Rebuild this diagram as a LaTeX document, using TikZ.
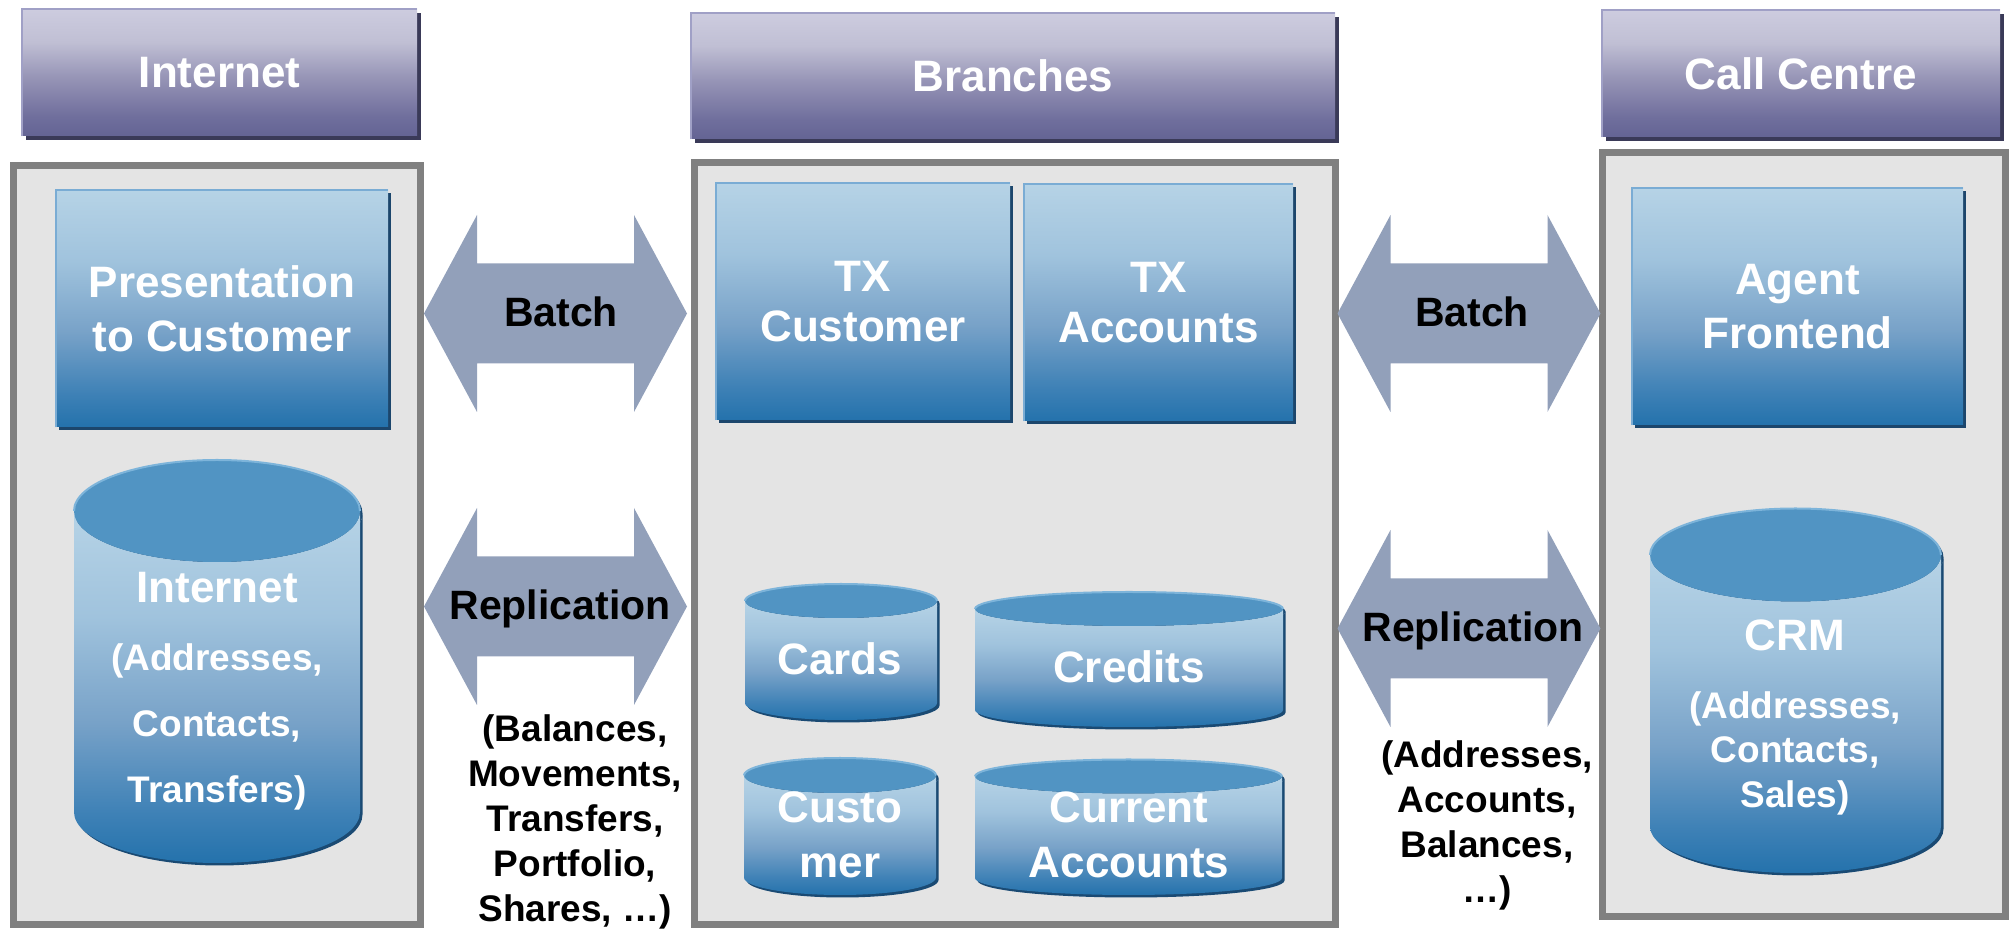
\documentclass[tikz,border=0pt]{standalone}
\usepackage{fontspec}
\setmainfont{Liberation Sans}
\usetikzlibrary{shadows}

% palette
\definecolor{hdrT}{RGB}{205,204,223}
\definecolor{hdrA}{RGB}{192,191,212}
\definecolor{hdrB}{RGB}{150,148,182}
\definecolor{hdrC}{RGB}{112,111,157}
\definecolor{hdrD}{RGB}{100,100,148}
\definecolor{hdrRim}{RGB}{160,160,198}
\definecolor{hdrShadow}{RGB}{58,58,88}
\definecolor{bxT}{RGB}{182,211,230}
\definecolor{bxA}{RGB}{160,195,221}
\definecolor{bxB}{RGB}{120,162,200}
\definecolor{bxC}{RGB}{62,129,182}
\definecolor{bxD}{RGB}{36,114,172}
\definecolor{bxRim}{RGB}{122,172,212}
\definecolor{bxShadow}{RGB}{28,70,108}
\definecolor{cylTop}{RGB}{81,148,195}
\definecolor{cylRim}{RGB}{125,180,218}
\definecolor{cylShadow}{RGB}{26,74,115}
\definecolor{arrowFill}{RGB}{146,160,186}
\definecolor{panelFill}{RGB}{228,228,228}
\definecolor{panelLine}{RGB}{128,128,128}

\pgfdeclareverticalshading{hdrshade}{100bp}{color(0bp)=(hdrD); color(25bp)=(hdrD); color(33bp)=(hdrC); color(48bp)=(hdrB); color(62bp)=(hdrA); color(75bp)=(hdrT); color(100bp)=(hdrT)}
\pgfdeclareverticalshading{boxshade}{100bp}{color(0bp)=(bxD); color(25bp)=(bxD); color(32bp)=(bxC); color(45bp)=(bxB); color(60bp)=(bxA); color(75bp)=(bxT); color(100bp)=(bxT)}

\begin{document}
\begin{tikzpicture}[
  x=0.5pt, y=0.5pt,
  panel/.style={draw=panelLine, fill=panelFill, line width=3.5pt, inner sep=0pt},
  header/.style={shade, shading=hdrshade, inner sep=0pt, text=white,
    font=\fontsize{22}{26}\selectfont\bfseries,
    drop shadow={shadow xshift=2pt, shadow yshift=-2pt, fill=hdrShadow, opacity=1}},
  bluebox/.style={shade, shading=boxshade, inner sep=0pt, text=white, align=center,
    font=\fontsize{22}{27}\selectfont\bfseries,
    drop shadow={shadow xshift=1.5pt, shadow yshift=-1.5pt, fill=bxShadow, opacity=1}},
  celltitle/.style={text=white, inner sep=0pt, anchor=base, font=\fontsize{22}{26}\selectfont\bfseries},
  celltext/.style={text=white, inner sep=0pt, align=center},
  arrowlbl/.style={inner sep=0pt, anchor=base, font=\fontsize{20.5}{24}\selectfont\bfseries},
  note/.style={inner sep=0pt, align=center, font=\fontsize{18.5}{22.5}\selectfont\bfseries},
  pics/dblarrow/.style={code={
    \fill[arrowFill] (-131.5,0) -- (-78.5,98.5) -- (-78.5,50) -- (78.5,50) -- (78.5,98.5)
      -- (131.5,0) -- (78.5,-98.5) -- (78.5,-50) -- (-78.5,-50) -- (-78.5,-98.5) -- cycle;}},
  % #1 half width, #2 half height of the ellipse, #3 body height
  pics/dbcyl/.style n args={3}{code={
    \begin{scope}[shift={(2.5,-2.5)}]
      \fill[cylShadow] (-#1,0) -- (-#1,-#3)
        arc[start angle=180, end angle=360, x radius=#1, y radius=#2] -- (#1,0)
        arc[start angle=0, end angle=-180, x radius=#1, y radius=#2] -- cycle;
      \fill[cylShadow] (0,0) ellipse[x radius=#1, y radius=#2];
    \end{scope}
    \shade[shading=boxshade] (-#1,0) -- (-#1,-#3)
      arc[start angle=180, end angle=360, x radius=#1, y radius=#2] -- (#1,0)
      arc[start angle=0, end angle=-180, x radius=#1, y radius=#2] -- cycle;
    \fill[cylTop] (0,0) ellipse[x radius=#1, y radius=#2];
    \draw[cylRim, line width=1pt] (-#1,0) arc[start angle=180, end angle=0, x radius=#1, y radius=#2];
  }}
]
\useasboundingbox (0,0) rectangle (2010,-929);

% the three system panels
\node[panel, minimum width=203.5pt, minimum height=379.5pt] (pInternet) at (217,-545) {};
\node[panel, minimum width=320.5pt, minimum height=381pt] (pBranches) at (1015,-543.5) {};
\node[panel, minimum width=201.5pt, minimum height=382pt] (pCall) at (1804,-534.5) {};

% channel headers
\node[header, minimum width=197.5pt, minimum height=63.5pt] (hInternet) at (219.5,-72.5) {Internet};
\node[header, minimum width=322pt, minimum height=63pt] (hBranches) at (1013,-76) {Branches};
\node[header, minimum width=199pt, minimum height=63.5pt] (hCall) at (1801,-73.5) {Call Centre};
\foreach \h in {hInternet,hBranches,hCall}
  \draw[hdrRim, line width=1pt] (\h.south west) |- (\h.north east);

% exchange arrows between the panels
\coordinate (batchL) at (555.5,-313.5);
\coordinate (replL) at (555.5,-606.5);
\coordinate (batchR) at (1469,-313.5);
\coordinate (replR) at (1469,-628.5);
\pic at (batchL) {dblarrow};
\pic at (replL) {dblarrow};
\pic at (batchR) {dblarrow};
\pic at (replR) {dblarrow};
\node[arrowlbl] (batchLtxt) at (561,-327) {Batch};
\node[arrowlbl] (replLtxt) at (560,-620) {Replication};
\node[arrowlbl] (batchRtxt) at (1472,-327) {Batch};
\node[arrowlbl] (replRtxt) at (1473,-642) {Replication};
\node[note] (replLdata) at (575,-822) {(Balances,\\Movements,\\Transfers,\\Portfolio,\\Shares, …)};
\node[note] (replRdata) at (1487,-825.5) {(Addresses,\\Accounts,\\Balances,\\…)};

% application blocks
\node[bluebox, minimum width=166pt, minimum height=118.5pt] (presentation) at (222,-308.5) {Presentation\\to Customer};
\node[bluebox, font=\fontsize{22}{25}\selectfont\bfseries, minimum width=147pt, minimum height=118.5pt] (txCustomer) at (863,-301.5) {TX\\Customer};
\node[bluebox, font=\fontsize{22}{25}\selectfont\bfseries, minimum width=134.5pt, minimum height=118.5pt] (txAccounts) at (1158.5,-302.5) {TX\\Accounts};
\node[bluebox, minimum width=165.5pt, minimum height=118.5pt] (agent) at (1797.5,-306.5) {Agent\\Frontend};
\foreach \b in {presentation,txCustomer,txAccounts,agent}
  \draw[bxRim, line width=1pt] (\b.south west) |- (\b.north east);

% databases
\pic at (217,-511) {dbcyl={143}{51}{301}};
\pic at (1795.5,-555) {dbcyl={145.5}{46.5}{271.5}};
\pic at (841,-601) {dbcyl={96}{17}{102}};
\pic at (1129,-609) {dbcyl={154}{17}{101}};
\pic at (840,-775.5) {dbcyl={96}{17.5}{102}};
\pic at (1128.5,-776.5) {dbcyl={153.5}{17}{101.5}};

\node[celltitle] (dbInternet) at (217,-603) {Internet};
\node[celltext, font=\fontsize{18.5}{33}\selectfont\bfseries] (dbInternetData) at (217,-726.5) {(Addresses,\\Contacts,\\Transfers)};
\node[celltitle] (dbCRM) at (1795,-651) {CRM};
\node[celltext, font=\fontsize{18.5}{22.25}\selectfont\bfseries] (dbCRMData) at (1795,-753) {(Addresses,\\Contacts,\\Sales)};
\node[celltitle] (dbCards) at (840,-675) {Cards};
\node[celltitle] (dbCredits) at (1129,-683) {Credits};
\node[celltext, font=\fontsize{22}{27.5}\selectfont\bfseries] (dbCustomer) at (840,-835) {Custo\\mer};
\node[celltext, font=\fontsize{22}{27.5}\selectfont\bfseries] (dbCurrent) at (1129,-835) {Current\\Accounts};
\end{tikzpicture}
\end{document}
